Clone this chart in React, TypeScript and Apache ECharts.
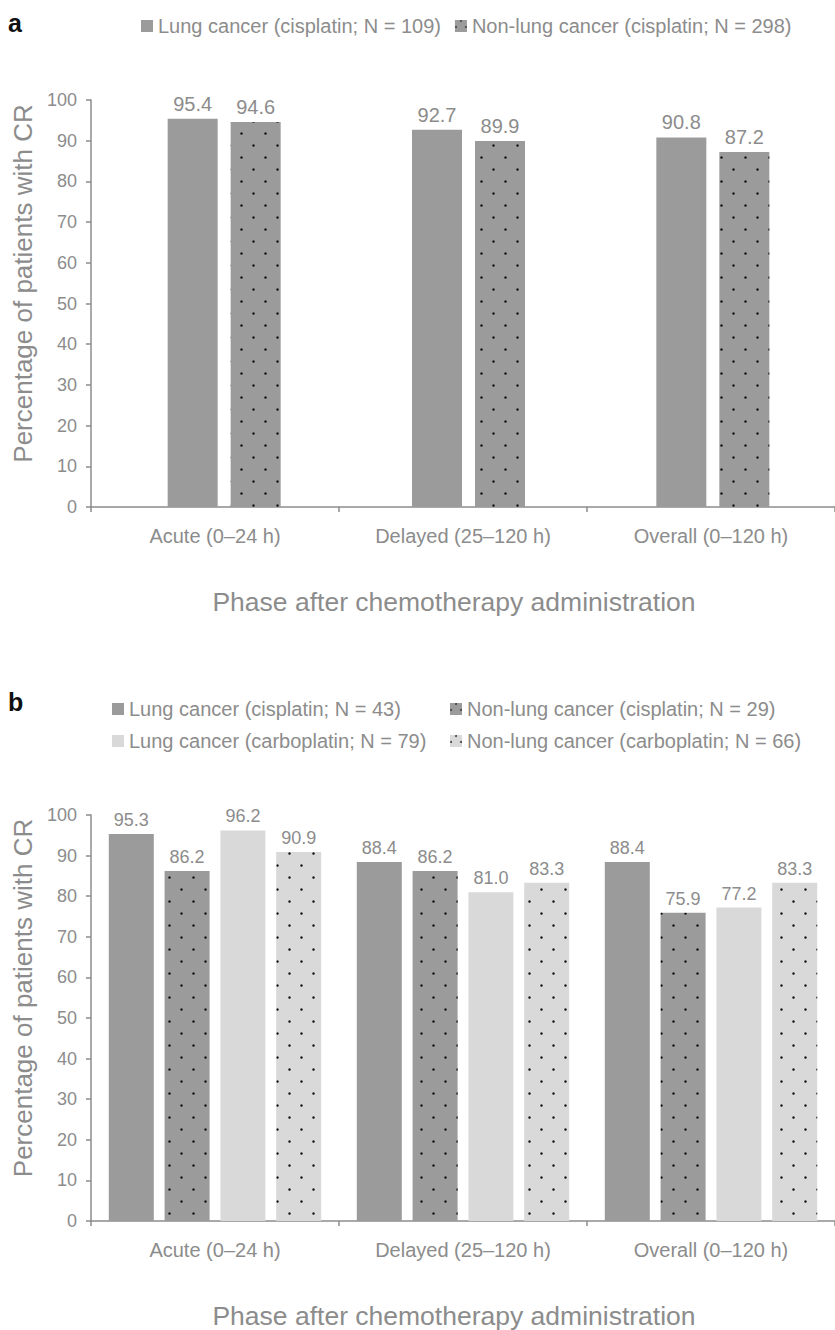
import React, { useEffect, useRef } from "react";
import * as echarts from "echarts";

const phases = ["Acute (0–24 h)", "Delayed (25–120 h)", "Overall (0–120 h)"];

const aNames = ["Lung cancer (cisplatin; N = 109)", "Non-lung cancer (cisplatin; N = 298)"];
const aLungCis = [95.4, 92.7, 90.8];
const aNonLungCis = [94.6, 89.9, 87.2];

const bNames = [
  "Lung cancer (cisplatin; N = 43)",
  "Non-lung cancer (cisplatin; N = 29)",
  "Lung cancer (carboplatin; N = 79)",
  "Non-lung cancer (carboplatin; N = 66)",
];
const bLungCis = [95.3, 88.4, 88.4];
const bNonLungCis = [86.2, 86.2, 75.9];
const bLungCarbo = [96.2, 81.0, 77.2];
const bNonLungCarbo = [90.9, 83.3, 83.3];

const yAxisName = "Percentage of patients with CR";
const xAxisName = "Phase after chemotherapy administration";

const DARK = "#9a9b9a";
const LIGHT = "#d9d9d9";
const GREY = "#8c8c8c";
const FONT = "'Liberation Sans', Arial, sans-serif";

const dots = {
  symbol: "circle",
  symbolSize: 0.85,
  color: "#111111",
  dashArrayX: [
    [3, 21],
    [0, 12, 3, 9],
  ],
  dashArrayY: [3, 9],
  rotation: 0,
};

const iconDots = {
  symbol: "circle",
  symbolSize: 1,
  color: "#444444",
  dashArrayX: [
    [2, 8],
    [0, 5, 2, 3],
  ],
  dashArrayY: [2, 4],
  rotation: 0,
};

function xAxisFor(gridIndex: number) {
  return {
    type: "category",
    gridIndex,
    data: phases,
    axisLine: { lineStyle: { color: GREY, width: 1.5 } },
    axisTick: { show: true, length: 5, lineStyle: { color: GREY, width: 1.5 } },
    axisLabel: { color: GREY, fontSize: 20, fontFamily: FONT, margin: 19 },
    name: xAxisName,
    nameLocation: "middle",
    nameGap: 81,
    nameTextStyle: { color: GREY, fontSize: 26.5, fontFamily: FONT, padding: [0, 18, 0, 0] },
  };
}

function yAxisFor(gridIndex: number) {
  return {
    type: "value",
    gridIndex,
    min: 0,
    max: 100,
    interval: 10,
    splitLine: { show: false },
    axisLine: { show: true, lineStyle: { color: GREY, width: 1.5 } },
    axisTick: { show: true, length: 5, lineStyle: { color: GREY, width: 1.5 } },
    axisLabel: { color: GREY, fontSize: 18, fontFamily: FONT, margin: 14 },
    name: yAxisName,
    nameLocation: "middle",
    nameGap: 51,
    nameTextStyle: { color: GREY, fontSize: 26, fontFamily: FONT, padding: [0, 0, 0, 40] },
  };
}

function hiddenX(gridIndex: number) {
  return {
    type: "category",
    gridIndex,
    data: phases,
    show: false,
  };
}

function hiddenY(gridIndex: number) {
  return {
    type: "value",
    gridIndex,
    min: 0,
    max: 100,
    interval: 10,
    show: false,
    splitLine: { show: false },
  };
}

function barSeries(
  name: string,
  data: number[],
  idx: number,
  color: string,
  dotted: boolean,
  barWidth: number,
  barGap: string,
  labelSize: number
) {
  return {
    type: "bar",
    name,
    data,
    xAxisIndex: idx,
    yAxisIndex: idx,
    barWidth,
    barGap,
    itemStyle: dotted ? { color, decal: dots } : { color },
    label: {
      show: true,
      position: "top",
      distance: 5,
      color: GREY,
      fontSize: labelSize,
      fontFamily: FONT,
      formatter: (p: any) => Number(p.value).toFixed(1),
    },
  };
}

function legendItem(name: string, color: string, dotted: boolean) {
  return { name, itemStyle: dotted ? { color, decal: iconDots } : { color } };
}

export default function App() {
  const ref = useRef<HTMLDivElement>(null);
  useEffect(() => {
    if (!ref.current) return;
    const chart = echarts.init(ref.current, undefined, { renderer: "svg" });
    const legendText = { color: GREY, fontSize: 20, fontFamily: FONT };
    chart.setOption({
      animation: false,
      backgroundColor: "#ffffff",
      textStyle: { fontFamily: FONT },
      graphic: [
        {
          type: "text",
          left: 8,
          top: 10,
          style: { text: "a", fontSize: 25, fontWeight: "bold", fill: "#111", fontFamily: FONT },
        },
        {
          type: "text",
          left: 8,
          top: 689,
          style: { text: "b", fontSize: 25, fontWeight: "bold", fill: "#111", fontFamily: FONT },
        },
      ],
      legend: [
        {
          data: [legendItem(aNames[0], DARK, false), legendItem(aNames[1], DARK, true)],
          left: 136,
          top: 11,
          itemWidth: 12,
          itemHeight: 12,
          itemGap: 14,
          icon: "rect",
          textStyle: legendText,
          selectedMode: false,
        },
        {
          data: [legendItem(bNames[0], DARK, false), legendItem(bNames[2], LIGHT, false)],
          orient: "vertical",
          left: 107,
          top: 694,
          itemWidth: 12,
          itemHeight: 12,
          itemGap: 12,
          icon: "rect",
          textStyle: legendText,
          selectedMode: false,
        },
        {
          data: [legendItem(bNames[1], DARK, true), legendItem(bNames[3], LIGHT, true)],
          orient: "vertical",
          left: 445,
          top: 694,
          itemWidth: 12,
          itemHeight: 12,
          itemGap: 12,
          icon: "rect",
          textStyle: legendText,
          selectedMode: false,
        },
      ],
      grid: [
        { left: 91, top: 100, width: 752, height: 407 },
        { left: 91, top: 815, width: 752, height: 407 },
        { left: 102, top: 100, width: 752, height: 407 },
      ],
      xAxis: [xAxisFor(0), xAxisFor(1), hiddenX(2)],
      yAxis: [yAxisFor(0), yAxisFor(1), hiddenY(2)],
      series: [
        barSeries(aNames[0], aLungCis, 2, DARK, false, 50, "26%", 20),
        barSeries(aNames[1], aNonLungCis, 2, DARK, true, 50, "26%", 20),
        barSeries(bNames[0], bLungCis, 1, DARK, false, 45, "24%", 18),
        barSeries(bNames[1], bNonLungCis, 1, DARK, true, 45, "24%", 18),
        barSeries(bNames[2], bLungCarbo, 1, LIGHT, false, 45, "24%", 18),
        barSeries(bNames[3], bNonLungCarbo, 1, LIGHT, true, 45, "24%", 18),
      ],
    });
    return () => chart.dispose();
  }, []);
  return (
    <div
      ref={ref}
      style={{ position: "absolute", left: 0, top: 0, width: 835, height: 1330 }}
    />
  );
}
